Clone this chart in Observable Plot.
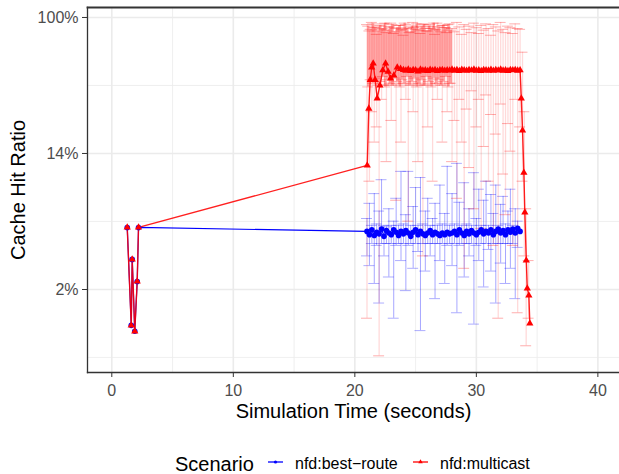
<!DOCTYPE html>
<html><head><meta charset="utf-8">
<script src="https://cdn.jsdelivr.net/npm/d3@7"></script>
<script src="https://cdn.jsdelivr.net/npm/@observablehq/plot@0.6"></script>
<style>
body{margin:0;background:#fff;font-family:"Liberation Sans",Arial,sans-serif;}
#wrap{position:relative;width:619px;height:474px;overflow:hidden}
#chart svg{display:block}
#legend{position:absolute;left:0;top:440px}
</style></head><body><div id="wrap"><div id="chart"></div><svg id="legend" width="619" height="34"></svg></div>
<script>
// ---- axis / grid values ----
const xTicks = [0, 10, 20, 30, 40];
const xMinor = [5, 15, 25, 35];
const yTicks = [0.0183, 0.1353, 1];          // e^-4, e^-2, e^0
const yMinor = [0.00674, 0.0498, 0.3679];    // e^-5, e^-3, e^-1
const seriesNames = ["nfd:best\u2212route", "nfd:multicast"];
const seriesColors = ["#0000FF", "#FF0000"];

// ---- nfd:multicast ----
const mcTime = [1.27,1.60,1.68,1.89,2.09,2.20,
  21.02,21.15,21.27,21.39,21.51,21.67,21.84,22.06,22.30,22.53,22.74,22.94,23.21,23.49,23.76,
  24.0,24.2,24.4,24.6,24.8,25.0,25.2,25.4,25.6,25.8,26.0,26.2,26.4,26.6,26.8,27.0,27.2,27.4,27.6,27.8,
  28.0,28.2,28.4,28.6,28.8,29.0,29.2,29.4,29.6,29.8,30.0,30.2,30.4,30.6,30.8,31.0,31.2,31.4,31.6,31.8,
  32.0,32.2,32.4,32.6,32.8,33.0,33.2,33.4,33.6,
  33.70,33.80,33.91,33.99,34.11,34.19,34.32,34.40];
const mcRatio = [0.0456,0.0108,0.0285,0.0099,0.0206,0.0456,
  0.1135,0.262,0.40,0.48,0.508,0.40,0.304,0.368,0.46,0.508,0.45,0.408,0.426,0.479,0.47,
  .462,.458,.466,.455,.463,.460,.452,.465,.458,.461,.456,.464,.459,.462,.455,.460,.463,.457,.461,.459,
  .465,.458,.462,.456,.464,.460,.457,.463,.459,.466,.458,.461,.455,.463,.460,.458,.464,.457,.462,.459,
  .465,.458,.461,.456,.463,.460,.462,.458,.460,
  0.304,0.19,0.102,0.0568,0.0281,0.0186,0.0168,0.0111];
const mcErrTime = [21.0,21.2,21.4,21.6,21.8,22.0,22.2,22.4,22.6,22.8,23.0,23.2,23.4,23.6,23.8,24.0,24.2,24.4,24.6,24.8,
  25.0,25.2,25.4,25.6,25.8,26.0,26.2,26.4,26.6,26.8,27.0,27.2,27.4,27.6,27.8,28.0,28.2,28.4,28.6,28.8,
  29.0,29.2,29.4,29.6,29.8,30.0,30.2,30.4,30.6,30.8,31.0,31.2,31.4,31.6,31.8,32.0,32.2,32.4,32.6,32.8,
  33.0,33.2,33.4,33.6,33.8,33.95,34.1,34.3];
const mcErrLo = [0.012,0.09,0.25,0.16,0.20,0.0069,0.30,0.37,0.12,0.37,0.22,0.38,0.068,0.37,0.16,0.38,0.30,0.05,0.37,0.25,
  0.38,0.12,0.37,0.03,0.37,0.20,0.38,0.09,0.37,0.30,0.38,0.16,0.37,0.25,0.38,0.12,0.22,0.07,0.30,0.16,
  0.025,0.26,0.11,0.34,0.06,0.20,0.30,0.045,0.15,0.32,0.09,0.24,0.035,0.18,0.012,0.28,0.10,0.055,0.21,0.14,
  0.035,0.30,0.013,0.20,0.09,0.03,0.008,0.012];
const mcErrHi = [0.90,0.82,0.93,0.86,0.78,0.88,0.84,0.91,0.80,0.87,0.92,0.79,0.85,0.89,0.83,0.77,0.90,0.86,0.81,0.93,
  0.84,0.88,0.79,0.91,0.85,0.82,0.90,0.87,0.78,0.92,0.83,0.89,0.86,0.80,0.91,0.85,0.81,0.93,0.87,0.78,
  0.90,0.84,0.88,0.80,0.92,0.86,0.79,0.89,0.83,0.91,0.85,0.77,0.90,0.87,0.82,0.93,0.84,0.80,0.88,0.86,
  0.79,0.91,0.85,0.84,0.60,0.25,0.06,0.028];
// second (denser) set of multicast error bars during the first part of the run
const mcBandTime = [21.1,21.3,21.5,21.7,21.9,22.1,22.3,22.5,22.7,22.9,23.1,23.3,23.5,23.7,23.9,24.1,24.3,24.5,24.7,24.9,
  25.1,25.3,25.5,25.7,25.9,26.1,26.3,26.5,26.7,26.9,27.1,27.3,27.5,27.7,27.9];
const mcBandLo = [0.36,0.40,0.38,0.41,0.37,0.39,0.42,0.36,0.40,0.38,0.37,0.41,0.39,0.36,0.40,0.38,0.42,0.37,0.39,0.41,
  0.36,0.38,0.40,0.37,0.42,0.39,0.36,0.41,0.38,0.40,0.37,0.39,0.42,0.36,0.38];
const mcBandHi = [0.88,0.84,0.91,0.86,0.82,0.89,0.85,0.92,0.83,0.87,0.90,0.81,0.86,0.89,0.84,0.92,0.85,0.80,0.88,0.86,
  0.91,0.83,0.87,0.90,0.82,0.88,0.85,0.92,0.84,0.87,0.81,0.89,0.86,0.90,0.83];

// ---- nfd:best-route ----
const brTime = [1.27,1.60,1.68,1.89,2.09,2.20,
  21.0,21.2,21.4,21.6,21.8,22.0,22.2,22.4,22.6,22.8,23.0,23.2,23.4,23.6,23.8,24.0,24.2,24.4,24.6,24.8,
  25.0,25.2,25.4,25.6,25.8,26.0,26.2,26.4,26.6,26.8,27.0,27.2,27.4,27.6,27.8,28.0,28.2,28.4,28.6,28.8,
  29.0,29.2,29.4,29.6,29.8,30.0,30.2,30.4,30.6,30.8,31.0,31.2,31.4,31.6,31.8,32.0,32.2,32.4,32.6,32.8,
  33.0,33.2,33.4,33.6];
const brRatio = [0.0456,0.0108,0.0285,0.0099,0.0206,0.0456,
  .0430,.0410,.0440,.0405,.0425,.0415,.0445,.0400,.0435,.0420,.0410,.0440,.0425,.0405,.0430,.0415,.0435,.0420,.0400,.0425,
  .0440,.0410,.0430,.0415,.0405,.0420,.0435,.0410,.0425,.0415,.0405,.0420,.0410,.0425,.0415,.0420,.0430,.0410,.0440,.0420,
  .0405,.0430,.0415,.0435,.0420,.0410,.0425,.0440,.0415,.0430,.0420,.0440,.0410,.0430,.0445,.0420,.0435,.0410,.0440,.0425,
  .0445,.0420,.0450,.0430];
const brErrTime = [21.0,21.2,21.4,21.6,21.8,22.0,22.2,22.4,22.6,22.8,23.0,23.2,23.4,23.6,23.8,24.0,24.2,24.4,24.6,24.8,
  25.0,25.2,25.4,25.6,25.8,26.0,26.2,26.4,26.6,26.8,27.0,27.2,27.4,27.6,27.8,28.0,28.2,28.4,28.6,28.8,
  29.0,29.2,29.4,29.6,29.8,30.0,30.2,30.4,30.6,30.8,31.0,31.2,31.4,31.6,31.8,32.0,32.2,32.4,32.6,32.8,
  33.0,33.2,33.4];
const brErrLo = [0.030,0.026,0.036,0.020,0.035,0.015,0.036,0.030,0.036,0.022,0.036,0.012,0.035,0.036,0.028,0.036,0.018,0.035,0.036,0.025,
  0.036,0.032,0.010,0.036,0.024,0.036,0.030,0.036,0.016,0.036,0.028,0.036,0.020,0.035,0.036,0.026,0.036,0.013,0.035,0.036,
  0.022,0.036,0.030,0.036,0.011,0.035,0.028,0.036,0.019,0.036,0.033,0.024,0.036,0.015,0.036,0.027,0.036,0.020,0.036,0.025,
  0.036,0.016,0.034];
const brErrHi = [0.052,0.065,0.047,0.075,0.048,0.058,0.092,0.047,0.046,0.060,0.047,0.050,0.070,0.047,0.104,0.048,0.055,0.104,0.047,0.062,
  0.082,0.047,0.095,0.048,0.058,0.070,0.047,0.052,0.065,0.047,0.085,0.048,0.056,0.112,0.047,0.075,0.048,0.117,0.066,0.047,
  0.088,0.048,0.060,0.047,0.102,0.052,0.080,0.047,0.068,0.090,0.047,0.074,0.056,0.085,0.047,0.064,0.072,0.048,0.058,0.080,
  0.047,0.060,0.050];

// ---- tables ----
const mc = mcTime.map((t, i) => ({t, v: mcRatio[i]}));
const br = brTime.map((t, i) => ({t, v: brRatio[i]}));
const mcErr = mcErrTime.map((t, i) => ({t, lo: mcErrLo[i], hi: mcErrHi[i]}));
const mcBand = mcBandTime.map((t, i) => ({t, lo: mcBandLo[i], hi: mcBandHi[i]}));
const brErr = brErrTime.map((t, i) => ({t, lo: brErrLo[i], hi: brErrHi[i]}));
const caps = e => e.flatMap(d => [{t: d.t, y: d.lo}, {t: d.t, y: d.hi}]);
const capHalf = 0.45;

const grid = "#EBEBEB";
const ink = "#333333";
const font = '"Liberation Sans", Arial, sans-serif';

const chart = Plot.plot({
  width: 619, height: 440,
  marginLeft: 87, marginRight: 0, marginTop: 7, marginBottom: 68,
  style: {fontFamily: font, background: "#fff"},
  x: {domain: [-2.0, 41.78], axis: null},
  y: {type: "log", domain: [0.0054, 1.158], axis: null},
  marks: [
    Plot.ruleX(xMinor, {stroke: grid, strokeWidth: 0.8}),
    Plot.ruleY(yMinor, {stroke: grid, strokeWidth: 0.8}),
    Plot.ruleX(xTicks, {stroke: grid, strokeWidth: 1.6}),
    Plot.ruleY(yTicks, {stroke: grid, strokeWidth: 1.6}),
    // error bars
    Plot.ruleX(brErr, {x: "t", y1: "lo", y2: "hi", stroke: seriesColors[0], strokeOpacity: 0.35, strokeWidth: 1}),
    Plot.ruleY(caps(brErr), {y: "y", x1: d => d.t - capHalf, x2: d => d.t + capHalf, stroke: seriesColors[0], strokeOpacity: 0.32, strokeWidth: 1}),
    Plot.ruleX(mcErr, {x: "t", y1: "lo", y2: "hi", stroke: seriesColors[1], strokeOpacity: 0.15, strokeWidth: 1.3}),
    Plot.ruleY(caps(mcErr), {y: "y", x1: d => d.t - capHalf, x2: d => d.t + capHalf, stroke: seriesColors[1], strokeOpacity: 0.32, strokeWidth: 1}),
    Plot.ruleX(mcBand, {x: "t", y1: "lo", y2: "hi", stroke: seriesColors[1], strokeOpacity: 0.34, strokeWidth: 2.4}),
    Plot.ruleY(caps(mcBand), {y: "y", x1: d => d.t - capHalf, x2: d => d.t + capHalf, stroke: seriesColors[1], strokeOpacity: 0.3, strokeWidth: 1}),
    // lines
    Plot.line(br, {x: "t", y: "v", stroke: seriesColors[0], strokeWidth: 1.2}),
    Plot.line(mc, {x: "t", y: "v", stroke: seriesColors[1], strokeWidth: 1.4, strokeOpacity: 0.88}),
    Plot.dot(br, {x: "t", y: "v", r: 2.8, fill: seriesColors[0], stroke: "none"}),
    Plot.dot(mc, {x: "t", y: "v", r: 2.7, symbol: "triangle", fill: seriesColors[1], stroke: "none"}),
    // panel border (left, top, bottom)
    Plot.frame({anchor: "left", stroke: ink, strokeWidth: 1.3}),
    Plot.frame({anchor: "bottom", stroke: ink, strokeWidth: 1.3}),
    Plot.frame({anchor: "top", stroke: ink, strokeWidth: 1.8}),
    // axes
    Plot.axisX(xTicks, {tickSize: 5, tickPadding: 7, fontSize: 16, label: null, stroke: ink, fill: "#4D4D4D"}),
    Plot.axisY(yTicks, {tickSize: 5, tickPadding: 4, fontSize: 16, label: null, tickFormat: d3.format(".0%"), stroke: ink, fill: "#4D4D4D"}),
    Plot.text(["Simulation Time (seconds)"], {frameAnchor: "bottom", dy: 39, lineAnchor: "middle", textAnchor: "middle", fontSize: 20, fill: "#000"}),
    Plot.text(["Cache Hit Ratio"], {frameAnchor: "left", dx: -69, rotate: -90, textAnchor: "middle", lineAnchor: "middle", fontSize: 20, fill: "#000"})
  ]
});
document.getElementById("chart").appendChild(chart);

// ---- legend ----
const lg = d3.select("#legend").style("font-family", font);
lg.append("text").attr("x", 175).attr("y", 30.5).attr("font-size", 20).text("Scenario");
const keyX = [268, 413], labX = [295, 440];
seriesNames.forEach((name, i) => {
  lg.append("line").attr("x1", keyX[i]).attr("x2", keyX[i] + 15).attr("y1", 22).attr("y2", 22)
    .attr("stroke", seriesColors[i]).attr("stroke-width", 1.3);
  if (i === 0) lg.append("circle").attr("cx", keyX[i] + 7.5).attr("cy", 22).attr("r", 1.6).attr("fill", seriesColors[i]);
  else lg.append("path").attr("d", d3.symbol(d3.symbolTriangle, 9)()).attr("transform", `translate(${keyX[i] + 7.5},22)`).attr("fill", seriesColors[i]);
  lg.append("text").attr("x", labX[i]).attr("y", 29).attr("font-size", 16).attr("fill", "#000").text(name);
});
</script></body></html>
